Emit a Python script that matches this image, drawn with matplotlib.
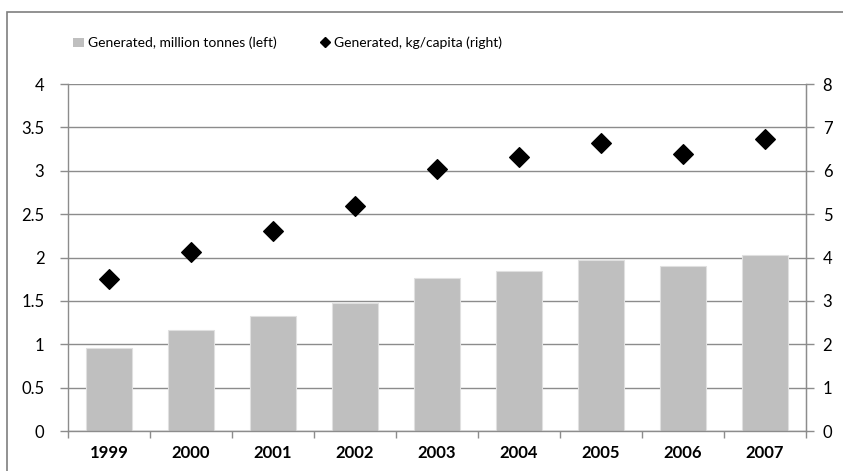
import numpy as np
import matplotlib.pyplot as plt
from matplotlib.patches import Rectangle
from matplotlib.lines import Line2D

# data
years = ['1999', '2000', '2001', '2002', '2003', '2004', '2005', '2006', '2007']
million_tonnes = [0.96, 1.17, 1.32, 1.48, 1.76, 1.85, 1.97, 1.90, 2.03]
kg_per_capita = [3.50, 4.13, 4.62, 5.18, 6.05, 6.31, 6.65, 6.39, 6.74]

plt.rcParams['font.family'] = ['Lato', 'DejaVu Sans']
grid_col = '#8c8c8c'
fs = 12

fig = plt.figure(figsize=(8.43, 4.71), dpi=100)
# outer chart border (cropped on right/bottom like the reference)
fig.patches.append(Rectangle((7 / 843, -0.05), 1.1, 1 - 12 / 471 + 0.05,
                             transform=fig.transFigure, fill=False,
                             edgecolor='#7f7f7f', linewidth=1.2))

ax = fig.add_axes([68 / 843, 1 - 431 / 471, 738 / 843, 347 / 471])
x = np.arange(len(years))
ax.bar(x, million_tonnes, width=0.57, color='#bfbfbf', edgecolor='#e0e0e0',
       linewidth=0.8, zorder=2)
ax.set_xlim(-0.5, len(years) - 0.5)
ax.set_ylim(0, 4)
ax.set_yticks(np.arange(0, 4.01, 0.5))
ax.set_yticklabels(['0', '0.5', '1', '1.5', '2', '2.5', '3', '3.5', '4'])
ax.yaxis.grid(True, color=grid_col, linewidth=1.0, zorder=0)
ax.set_axisbelow(True)

ax.set_xticks(x)
ax.set_xticklabels(years, fontweight='bold', fontsize=fs)
ax.set_xticks(np.arange(-0.5, len(years), 1.0), minor=True)
ax.tick_params(axis='x', which='major', length=0, pad=10)
ax.tick_params(axis='x', which='minor', length=5, color=grid_col, width=1)
ax.tick_params(axis='y', length=6, color=grid_col, width=1, labelsize=fs, pad=11)

ax.spines['top'].set_visible(False)
for s in ['left', 'right', 'bottom']:
    ax.spines[s].set_color(grid_col)
    ax.spines[s].set_linewidth(1.0)

ax2 = ax.twinx()
ax2.scatter(x, kg_per_capita, marker='D', s=100, color='black', zorder=3)
ax2.set_ylim(0, 8)
ax2.set_yticks(range(0, 9))
ax2.tick_params(axis='y', length=6, color=grid_col, width=1, labelsize=fs, pad=6)
for s in ['top', 'left', 'bottom']:
    ax2.spines[s].set_visible(False)
ax2.spines['right'].set_color(grid_col)

handles = [Rectangle((0, 0), 1, 1, facecolor='#bfbfbf', edgecolor='none'),
           Line2D([], [], marker='D', color='black', linestyle='none', markersize=5)]
labels = ['Generated, million tonnes (left)', 'Generated, kg/capita (right)']
fig.legend(handles, labels, loc='center left', bbox_to_anchor=(66 / 843, 1 - 43 / 471),
           ncol=2, frameon=False, fontsize=10, handlelength=0.8, handletextpad=0.25,
           columnspacing=3.1, borderpad=0)

fig.savefig('out.png', dpi=100)
